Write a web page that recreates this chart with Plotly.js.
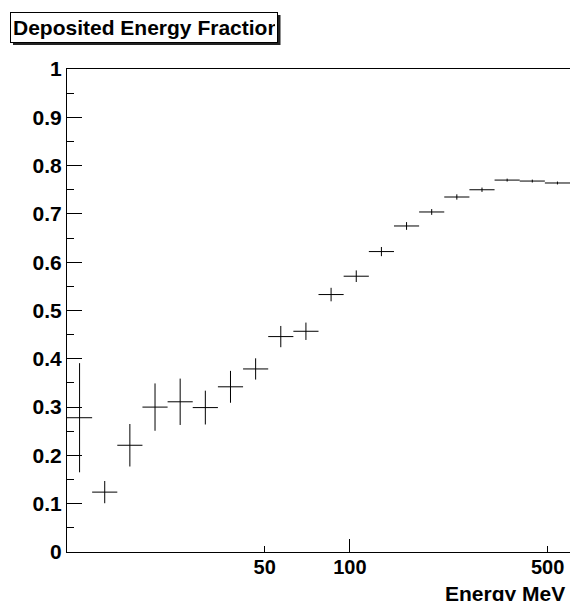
<!DOCTYPE html>
<html>
<head>
<meta charset="utf-8">
<script src="https://cdn.plot.ly/plotly-3.0.1.min.js"></script>
<style>html,body{margin:0;padding:0;background:#fff;}#chart{width:570px;height:601px;}</style>
</head>
<body>
<div id="chart"></div>
<script>
// Energy bin edges (MeV)
var binEdges = [10, 12.27, 15.06, 18.48, 22.68, 27.83, 34.16, 41.92, 51.44, 63.13, 77.46,
                95.06, 116.7, 143.2, 175.7, 215.6, 264.6, 324.7, 398.5, 489.0, 600];
// Deposited energy fraction per bin
var fraction = [0.278, 0.124, 0.221, 0.300, 0.311, 0.299, 0.342, 0.379, 0.446, 0.457,
                0.533, 0.571, 0.622, 0.675, 0.704, 0.735, 0.750, 0.770, 0.768, 0.764];
// Statistical errors
var fracErr = [0.113, 0.023, 0.044, 0.049, 0.048, 0.035, 0.033, 0.022, 0.022, 0.018,
               0.014, 0.012, 0.0095, 0.008, 0.006, 0.0055, 0.0045, 0.003, 0.003, 0.003];
var xTickVals = [50, 100, 500];
var xTickText = ['50', '100', '500'];
var titleText = 'Deposited Energy Fraction';
var xTitleText = 'Energy MeV';

var centers = [], errPlus = [], errMinus = [];
for (var i = 0; i < fraction.length; i++) {
  var lo = binEdges[i], hi = binEdges[i + 1];
  var c = Math.sqrt(lo * hi);
  centers.push(c); errPlus.push(hi - c); errMinus.push(c - lo);
}

var W = 570, H = 601, L = 67, R = 0, T = 69, B = 49;
var pw = W - L - R, ph = H - T - B;
function px(x) { return (x - L) / pw; }
function py(y) { return (H - B - y) / ph; }

var FONT = 'Liberation Sans, Arial, Helvetica, sans-serif';

var trace = {
  x: centers, y: fraction, type: 'scatter', mode: 'markers',
  marker: {size: 1, color: 'black', opacity: 0},
  error_y: {type: 'data', array: fracErr, visible: true, width: 0, thickness: 1, color: 'black'},
  error_x: {type: 'data', symmetric: false, array: errPlus, arrayminus: errMinus,
            visible: true, width: 0, thickness: 1, color: 'black'},
  hoverinfo: 'none', showlegend: false
};
var dummy = {x: [], y: [], xaxis: 'x2', yaxis: 'y', type: 'scatter', mode: 'markers', showlegend: false};

var layout = {
  width: W, height: H,
  margin: {l: L, r: R, t: T, b: B, pad: 0},
  paper_bgcolor: 'white', plot_bgcolor: 'white',
  showlegend: false,
  xaxis: {
    type: 'log', range: [Math.log10(binEdges[0]), Math.log10(binEdges[binEdges.length - 1])],
    tickmode: 'array', tickvals: xTickVals, ticktext: xTickText,
    ticks: 'inside', ticklen: 6, tickwidth: 1, tickcolor: 'black',
    showline: true, linecolor: 'black', linewidth: 1, mirror: true,
    showgrid: false, zeroline: false,
    tickfont: {family: FONT, size: 20, color: 'black', weight: 'bold'},
    ticklabelstandoff: -3
  },
  xaxis2: {
    type: 'log', overlaying: 'x', anchor: 'y',
    range: [Math.log10(binEdges[0]), Math.log10(binEdges[binEdges.length - 1])],
    tickmode: 'array', tickvals: [100], ticks: 'inside', ticklen: 13, tickwidth: 1, tickcolor: 'black',
    showticklabels: false, showline: false, showgrid: false, zeroline: false
  },
  yaxis: {
    range: [0, 1], tickmode: 'linear', tick0: 0, dtick: 0.1,
    ticks: 'inside', ticklen: 15, tickwidth: 1, tickcolor: 'black',
    minor: {dtick: 0.05, ticks: 'inside', ticklen: 7, tickwidth: 1, tickcolor: 'black', showgrid: false},
    showline: true, linecolor: 'black', linewidth: 1,
    showgrid: false, zeroline: false,
    tickfont: {family: FONT, size: 21, color: 'black', weight: 'bold'},
    ticklabelstandoff: 0
  },
  shapes: [{
    type: 'rect', xref: 'paper', yref: 'paper',
    x0: px(13), x1: px(280.5), y0: py(45), y1: py(15),
    fillcolor: '#222', line: {width: 0}, layer: 'above'
  }],
  annotations: [{
    xref: 'paper', yref: 'paper', x: px(10), y: py(11.7), xanchor: 'left', yanchor: 'top',
    text: '<b>' + titleText + '</b>', showarrow: false, align: 'left',
    width: 262, height: 25, borderpad: 2, borderwidth: 1, bordercolor: 'black', bgcolor: 'white',
    font: {family: FONT, size: 21, color: 'black'}
  }, {
    xref: 'paper', yref: 'paper', x: px(567), y: py(580), xanchor: 'right', yanchor: 'top',
    text: '<b>' + xTitleText + '</b>', showarrow: false,
    font: {family: FONT, size: 21, color: 'black'}
  }]
};

Plotly.newPlot('chart', [trace, dummy], layout, {staticPlot: true, displayModeBar: false});
</script>
</body>
</html>
